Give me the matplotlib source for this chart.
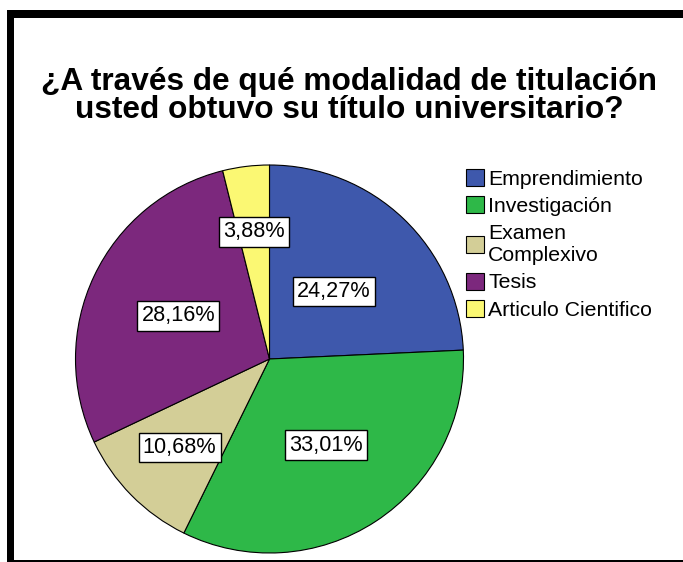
import numpy as np
import matplotlib
matplotlib.use("Agg")
import matplotlib.pyplot as plt
from matplotlib.patches import Rectangle

plt.rcParams['font.family'] = ['Liberation Sans', 'DejaVu Sans']

title = "¿A través de qué modalidad de titulación\nusted obtuvo su título universitario?"
categories = ["Emprendimiento", "Investigación", "Examen\nComplexivo", "Tesis", "Articulo Cientifico"]
values = [24.27, 33.01, 10.68, 28.16, 3.88]
colors = ["#3E58AC", "#2EB848", "#D3CE97", "#7C287D", "#FBF873"]
label_radius = [0.48, 0.53, 0.65, 0.52, 0.66]

W, H = 683, 562
fig = plt.figure(figsize=(W / 100, H / 100), dpi=100)

# frame decorations
fig.patches.append(Rectangle((7 / W, 1 - 18 / H), 1, 8 / H, transform=fig.transFigure,
                             facecolor="black", edgecolor="none"))
fig.patches.append(Rectangle((7 / W, 1 - 561 / H), 7 / W, 551 / H, transform=fig.transFigure,
                             facecolor="black", edgecolor="none"))
fig.patches.append(Rectangle((7 / W, 0), 1, 2 / H, transform=fig.transFigure,
                             facecolor="black", edgecolor="none"))

fig.text(349 / W, 1 - 96 / H, title, ha="center", va="center", fontsize=22.8,
         fontweight="bold", linespacing=0.95)

cx, cy, r = 269.5, 359, 194
ax = fig.add_axes([(cx - r) / W, (H - cy - r) / H, 2 * r / W, 2 * r / H])
wedges, _ = ax.pie(values, colors=colors, startangle=90, counterclock=False,
                   wedgeprops=dict(edgecolor="black", linewidth=0.8))
ax.set_xlim(-1, 1)
ax.set_ylim(-1, 1)
ax.set_aspect("equal")
ax.axis("off")

for w, v, lr in zip(wedges, values, label_radius):
    ang = np.deg2rad((w.theta1 + w.theta2) / 2)
    txt = f"{v:.2f}%".replace(".", ",")
    ax.text(lr * np.cos(ang), lr * np.sin(ang), txt, ha="center", va="center",
            fontsize=15.6,
            bbox=dict(boxstyle="square,pad=0.2", facecolor="white", edgecolor="black", linewidth=1))

fig.legend(wedges, categories, loc="upper left", bbox_to_anchor=(466 / W, 1 - 169 / H),
           frameon=False, fontsize=15.3, handlelength=0.85, handleheight=0.85,
           handletextpad=0.2, labelspacing=0.36, borderpad=0, borderaxespad=0)

fig.savefig("out.png", dpi=100)
